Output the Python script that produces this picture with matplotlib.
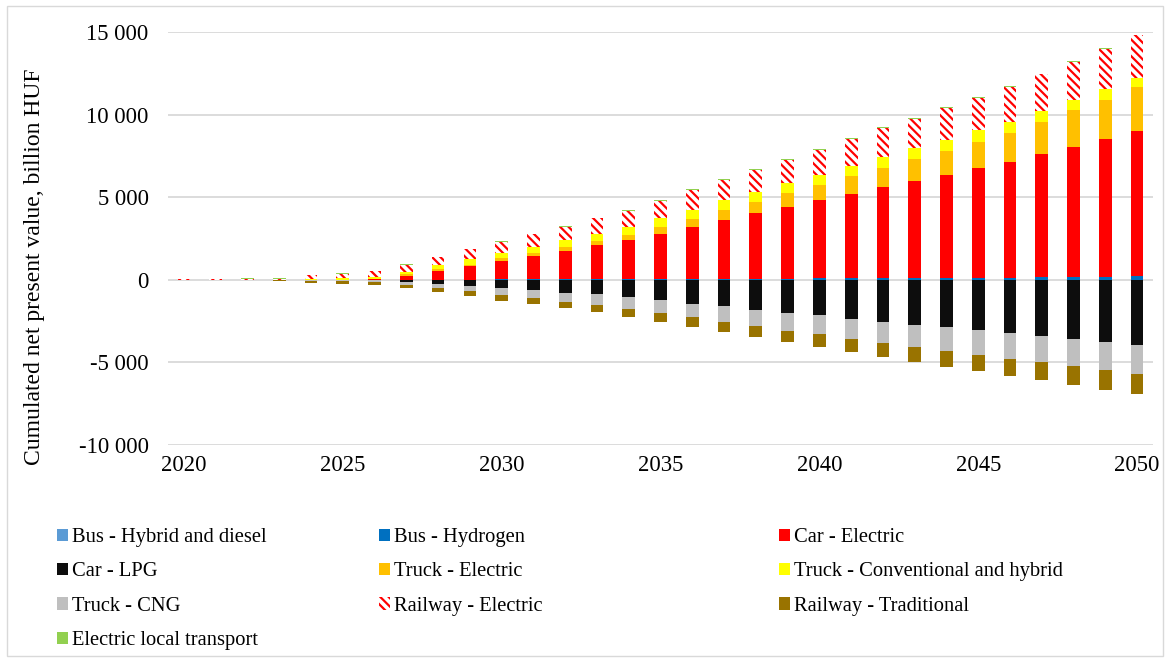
import numpy as np
import matplotlib
matplotlib.use("Agg")
import matplotlib.pyplot as plt
from matplotlib.ticker import FuncFormatter
from matplotlib.patches import Rectangle

plt.rcParams['font.family'] = ['Liberation Serif', 'DejaVu Serif']
plt.rcParams['hatch.linewidth'] = 1.6

years = list(range(2020, 2051))

# billion HUF
bus_hybrid = [0, 0, 0, 0, 0, 0, 0, 0, 0, 0, 10, 10, 10, 10, 10, 10, 10, 10, 10, 10,
              10, 10, 10, 10, 10, 10, 10, 10, 10, 10, 10]
bus_hydrogen = [0, 0, 0, 0, 0, 0, 0, 5, 10, 15, 20, 25, 30, 35, 40, 45, 50, 55, 60, 65,
                70, 75, 80, 90, 100, 110, 120, 130, 160, 180, 200]
car_electric = [0, 0, 0, 0, 0, 10, 30, 240, 520, 805, 1110, 1410, 1695, 2040, 2360, 2720,
                3135, 3580, 3945, 4345, 4750, 5110, 5520, 5890, 6250, 6655, 7020, 7450,
                7870, 8320, 8790]
car_lpg = [0, 0, 0, 0, 0, -30, -30, -140, -240, -405, -500, -605, -770, -865, -1070, -1250,
           -1450, -1615, -1815, -1980, -2160, -2360, -2560, -2720, -2885, -3065, -3225,
           -3430, -3590, -3770, -3950]
truck_electric = [0, 0, 0, 0, 0, 0, 30, 80, 100, 100, 165, 200, 260, 260, 300, 440, 510, 565,
                  700, 810, 910, 1090, 1150, 1310, 1450, 1590, 1730, 1975, 2220, 2400, 2660]
truck_conv = [0, 0, 0, 0, 40, 120, 100, 140, 240, 365, 340, 365, 405, 450, 500, 525, 545, 605,
              605, 605, 605, 625, 665, 665, 665, 685, 690, 645, 605, 630, 570]
truck_cng = [0, 0, 0, 0, -60, -60, -100, -160, -240, -300, -405, -500, -545, -645, -700, -760,
             -830, -945, -970, -1090, -1125, -1230, -1270, -1370, -1450, -1470, -1555, -1575,
             -1655, -1675, -1755]
railway_electric = [40, 50, 60, 70, 250, 240, 350, 450, 500, 565, 665, 750, 805, 925, 970,
                    1050, 1170, 1210, 1310, 1410, 1510, 1615, 1755, 1775, 1920, 1960, 2095,
                    2220, 2320, 2420, 2560]
railway_trad = [-20, -30, -40, -50, -120, -150, -190, -200, -270, -300, -365, -365, -400, -465,
                -510, -570, -605, -630, -685, -700, -785, -785, -845, -910, -945, -1010, -1030,
                -1090, -1110, -1210, -1235]
electric_local = [20, 20, 20, 20, 30, 30, 30, 40, 40, 40, 40, 40, 40, 40, 50, 50, 50, 50, 50,
                  50, 50, 50, 50, 50, 50, 50, 50, 50, 50, 50, 50]

series = [
    ("Bus - Hybrid and diesel", bus_hybrid, "#5B9BD5", None),
    ("Bus - Hydrogen", bus_hydrogen, "#0070C0", None),
    ("Car - Electric", car_electric, "#FF0000", None),
    ("Car - LPG", car_lpg, "#0D0D0D", None),
    ("Truck - Electric", truck_electric, "#FFC000", None),
    ("Truck - Conventional and hybrid", truck_conv, "#FFFF00", None),
    ("Truck - CNG", truck_cng, "#BFBFBF", None),
    ("Railway - Electric", railway_electric, "white", "\\\\\\\\"),
    ("Railway - Traditional", railway_trad, "#997300", None),
    ("Electric local transport", electric_local, "#92D050", None),
]

fig = plt.figure(figsize=(11.7, 6.6), dpi=100)
ax = fig.add_axes([168 / 1170, 1 - 445 / 660, (1153 - 168) / 1170, (445 - 32) / 660])

pos_bottom = np.zeros(len(years))
neg_bottom = np.zeros(len(years))
handles = []
for name, vals, color, hatch in series:
    v = np.array(vals, dtype=float)
    bottom = np.where(v >= 0, pos_bottom, neg_bottom)
    if hatch:
        bars = ax.bar(years, v, 0.4, bottom=bottom, color=color, edgecolor="red",
                      linewidth=0, hatch=hatch, label=name, zorder=3)
    else:
        bars = ax.bar(years, v, 0.4, bottom=bottom, color=color, linewidth=0,
                      label=name, zorder=3)
    pos_bottom += np.where(v >= 0, v, 0)
    neg_bottom += np.where(v < 0, v, 0)
    handles.append(bars)

ax.set_xlim(2019.5, 2050.5)
ax.set_ylim(-10000, 15000)
ax.set_yticks(range(-10000, 15001, 5000))
ax.set_xticks(range(2020, 2051, 5))
ax.yaxis.set_major_formatter(FuncFormatter(lambda v, p: f"{int(v):,}".replace(",", " ")))
ax.yaxis.grid(True, color="#d9d9d9", linewidth=1.3, zorder=0)
ax.set_axisbelow(True)
for s in ax.spines.values():
    s.set_visible(False)
ax.tick_params(axis="x", length=0, pad=7, labelsize=16.3)
ax.tick_params(axis="y", length=0, pad=14, labelsize=16.3)

fig.text(35 / 1170, 0.596, "Cumulated net present value, billion HUF", rotation=90,
         ha="center", va="center", fontsize=17)

# legend laid out row-wise in three columns
cols = [[0, 3, 6, 9], [1, 4, 7], [2, 5, 8]]
col_x = [57, 379, 779]
for idx, cx in zip(cols, col_x):
    fig.legend([handles[i] for i in idx], [series[i][0] for i in idx],
               loc="upper left", bbox_to_anchor=(cx / 1170, 1 - 528 / 660),
               frameon=False, fontsize=14.8, handlelength=0.55, handleheight=0.55,
               handletextpad=0.2, labelspacing=0.75, borderpad=0, borderaxespad=0)

fig.patches.append(Rectangle((7 / 1170, 4 / 660), 1156 / 1170, 650 / 660,
                             transform=fig.transFigure, fill=False,
                             edgecolor="#d9d9d9", linewidth=1))

fig.savefig("out.png", dpi=100)
